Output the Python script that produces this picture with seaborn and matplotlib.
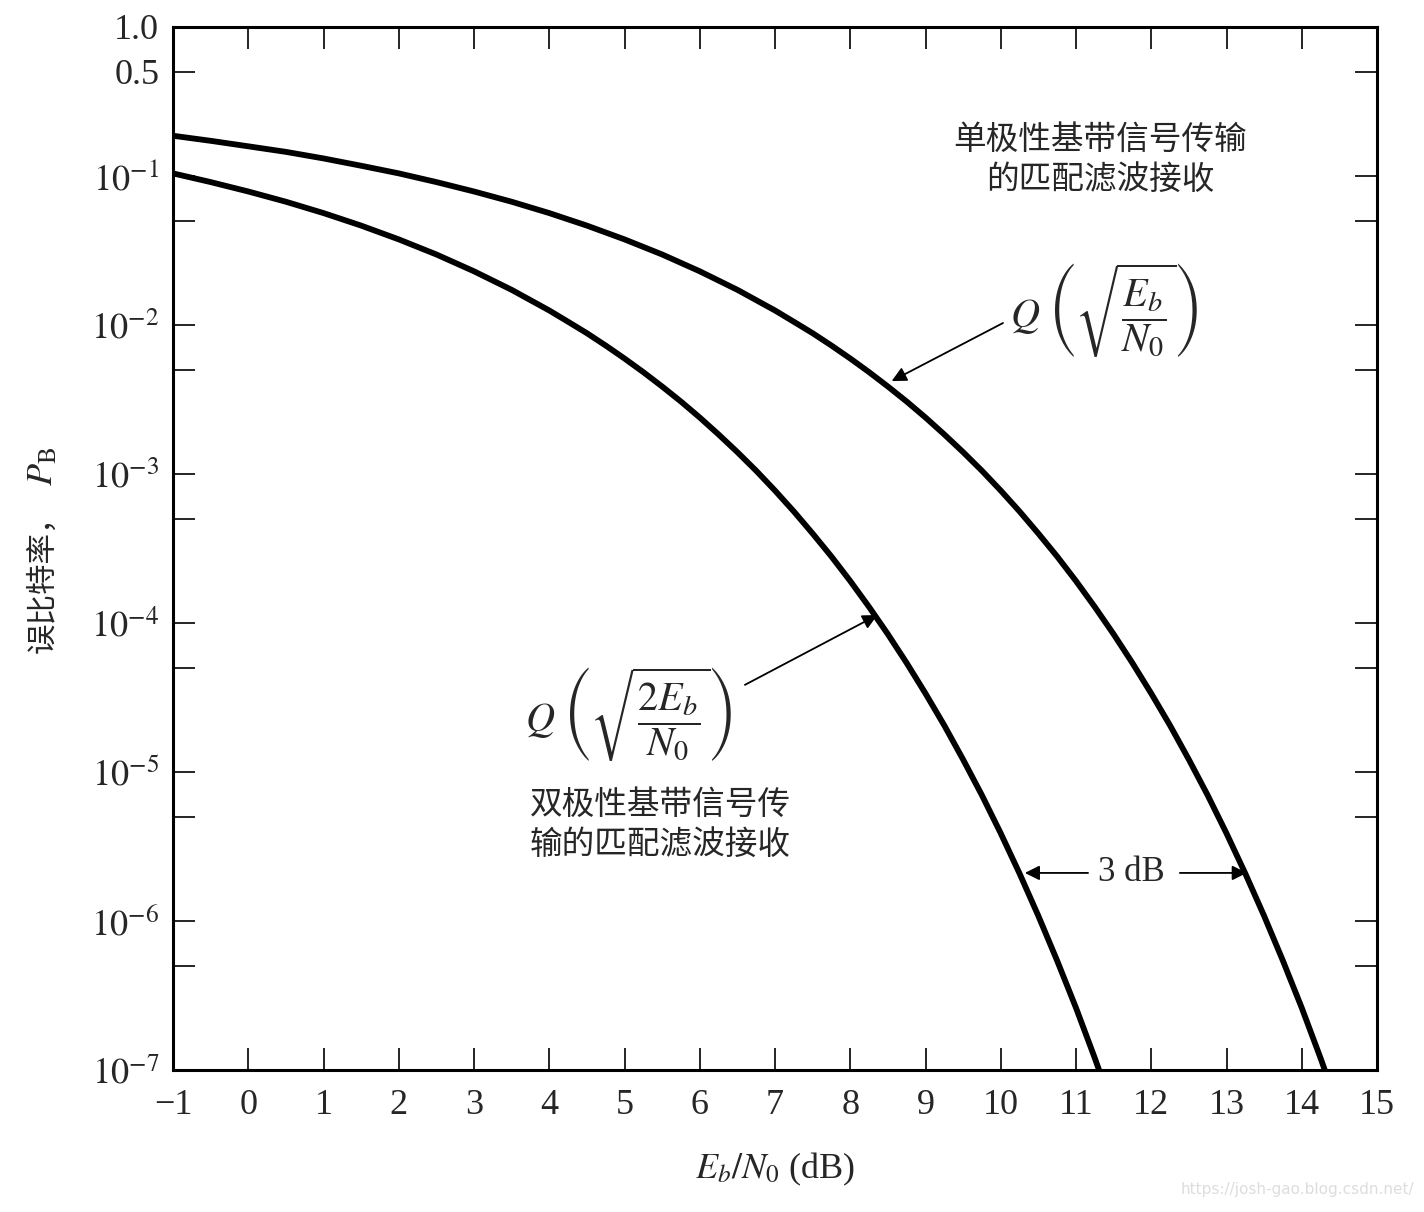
import numpy as np
import pandas as pd
import matplotlib
matplotlib.use("Agg")
import matplotlib.pyplot as plt
import seaborn as sns

# ---- data ----
uni_x = [-1, -0.5, 0, 0.5, 1, 1.5, 2, 2.5, 3, 3.5, 4, 4.5, 5, 5.5, 6, 6.5,
         7, 7.25, 7.5, 7.75, 8, 8.25, 8.5, 8.75, 9, 9.25, 9.5, 9.75, 10, 10.25,
         10.5, 10.75, 11, 11.25, 11.5, 11.75, 12, 12.25, 12.5, 12.75, 13, 13.25,
         13.5, 13.75, 14, 14.25, 14.5]
uni_pb = [0.186, 0.172, 0.158, 0.145, 0.131, 0.117, 0.104, 0.0909, 0.0786,
          0.0671, 0.0563, 0.0464, 0.0375, 0.0297, 0.0229, 0.0172,
          0.0125, 0.0105, 0.0088, 0.00727, 0.00595, 0.00482, 0.00386, 0.00306,
          0.00239, 0.00184, 0.00140, 0.00105, 7.73e-4, 5.6e-4, 3.98e-4, 2.79e-4,
          1.91e-4, 1.28e-4, 8.4e-5, 5.38e-5, 3.36e-5, 2.05e-5, 1.21e-5, 6.97e-6,
          3.87e-6, 2.08e-6, 1.08e-6, 5.4e-7, 2.61e-7, 1.2e-7, 5.3e-8]
bip_x = [-1, -0.5, 0, 0.5, 1, 1.5, 2, 2.5, 3, 3.5, 4, 4.25, 4.5, 4.75, 5, 5.25,
         5.5, 5.75, 6, 6.25, 6.5, 6.75, 7, 7.25, 7.5, 7.75, 8, 8.25, 8.5, 8.75,
         9, 9.25, 9.5, 9.75, 10, 10.25, 10.5, 10.75, 11, 11.25, 11.5]
bip_pb = [0.104, 0.0909, 0.0786, 0.0671, 0.0563, 0.0464, 0.0375, 0.0297, 0.0229,
          0.0172, 0.0125, 0.0105, 0.0088, 0.00727, 0.00595, 0.00482, 0.00386,
          0.00306, 0.00239, 0.00184, 0.00140, 0.00105, 7.73e-4, 5.6e-4, 3.98e-4,
          2.79e-4, 1.91e-4, 1.28e-4, 8.4e-5, 5.38e-5, 3.36e-5, 2.05e-5, 1.21e-5,
          6.97e-6, 3.87e-6, 2.08e-6, 1.08e-6, 5.4e-7, 2.61e-7, 1.2e-7, 5.3e-8]
series_names = ["单极性", "双极性"]

x_ticks = list(range(-1, 16))
x_tick_labels = ["\u22121"] + [str(v) for v in range(0, 16)]
y_major = [1.0, 0.5, 1e-1, 1e-2, 1e-3, 1e-4, 1e-5, 1e-6, 1e-7]
y_major_labels = ["1.0", "0.5", r"$10^{-1}$", r"$10^{-2}$", r"$10^{-3}$",
                  r"$10^{-4}$", r"$10^{-5}$", r"$10^{-6}$", r"$10^{-7}$"]
y_minor = [5e-2, 5e-3, 5e-4, 5e-5, 5e-6, 5e-7]

df = pd.concat([
    pd.DataFrame({"x": uni_x, "pb": uni_pb, "s": series_names[0]}),
    pd.DataFrame({"x": bip_x, "pb": bip_pb, "s": series_names[1]}),
])

sns.set_theme(style="white")
plt.rcParams["font.family"] = ["Liberation Serif", "Noto Sans CJK SC", "DejaVu Sans"]
plt.rcParams["mathtext.fontset"] = "stix"

fig = plt.figure(figsize=(14.24, 12.12), dpi=100)
ax = fig.add_axes([0.1215, 0.1172, 0.8455, 0.8606])

sns.lineplot(data=df, x="x", y="pb", hue="s", palette=["black", "black"],
             linewidth=4.2, legend=False, ax=ax, sort=True)

ax.set_yscale("log")
ax.set_xlim(-1, 15)
ax.set_ylim(1e-7, 1.0)

ax.set_xticks(x_ticks)
ax.set_xticklabels(x_tick_labels)
ax.set_yticks(y_major)
ax.set_yticklabels(y_major_labels)
ax.set_yticks(y_minor, minor=True)
ax.yaxis.set_minor_formatter(matplotlib.ticker.NullFormatter())
ax.xaxis.set_minor_locator(matplotlib.ticker.NullLocator())

ax.tick_params(axis="both", which="both", direction="in", length=16, width=1.2,
               color="black", top=True, right=True, left=True, bottom=True,
               labelsize=26, pad=10)
ax.tick_params(axis="x", pad=14)
for sp in ax.spines.values():
    sp.set_visible(True)
    sp.set_color("black")
    sp.set_linewidth(2.2)

ax.set_xlabel(r"$E_b/N_0$ (dB)", fontsize=26, labelpad=20)
ax.set_ylabel("")

cjk = ["Noto Sans CJK SC", "DejaVu Sans"]
# y label: Chinese part and math part
fig.text(0.030, 1 - 577 / 1212, "误比特率，", fontsize=22, family=cjk, rotation=90,
         ha="center", va="center")
fig.text(0.031, 1 - 466 / 1212, r"$P_{\mathrm{B}}$", fontsize=26, rotation=90,
         ha="center", va="center")

ax.text(11.32, 0.128, "单极性基带信号传输\n的匹配滤波接收", fontsize=23.5, family=cjk,
        ha="center", va="center", linespacing=1.3)
ax.text(5.47, 4.4e-6, "双极性基带信号传\n输的匹配滤波接收", fontsize=23.5, family=cjk,
        ha="center", va="center", linespacing=1.3)

arrow_kw = dict(arrowstyle="-|>", color="black", lw=1.3, mutation_scale=22,
                shrinkA=0, shrinkB=0)
ax.text(11.38, 0.0124, r"$Q\;\left(\sqrt{\dfrac{E_b}{N_0}}\right)$", fontsize=29,
        ha="center", va="center")
ax.annotate("", xy=(8.55, 4.2e-3), xytext=(10.03, 1.03e-2), arrowprops=arrow_kw)

ax.text(5.05, 2.42e-5, r"$Q\;\left(\sqrt{\dfrac{2E_b}{N_0}}\right)$", fontsize=29,
        ha="center", va="center")
ax.annotate("", xy=(8.36, 1.13e-4), xytext=(6.6, 3.84e-5), arrowprops=arrow_kw)

ax.text(11.74, 2.1e-6, "3 dB", fontsize=25, ha="center", va="center")
ax.annotate("", xy=(10.32, 2.1e-6), xytext=(11.16, 2.1e-6), arrowprops=arrow_kw)
ax.annotate("", xy=(13.27, 2.1e-6), xytext=(12.38, 2.1e-6), arrowprops=arrow_kw)

fig.text(0.993, 0.012, "https://josh-gao.blog.csdn.net/", fontsize=11,
         family="DejaVu Sans", color="#dddddd", ha="right", va="bottom")

fig.savefig("out.png", dpi=100)
